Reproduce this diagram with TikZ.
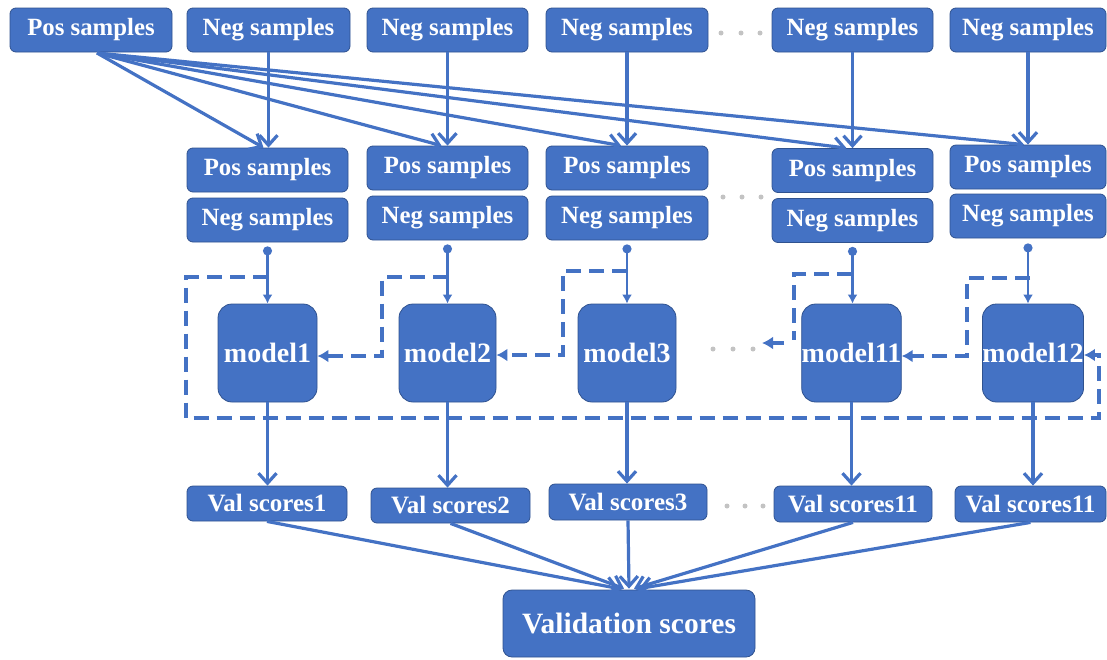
\documentclass[tikz,border=0pt]{standalone}
\usepackage{fontspec}
\setmainfont{Liberation Serif}[BoldFont={Liberation Serif Bold}]
\newfontfamily\lserif{Liberation Serif}[BoldFont={Liberation Serif Bold}]
\usetikzlibrary{arrows.meta,calc}
\definecolor{boxblue}{RGB}{68,114,196}
\definecolor{boxedge}{RGB}{47,82,143}
\definecolor{lineblue}{RGB}{68,114,196}
\definecolor{dotgray}{RGB}{195,195,195}
\begin{document}
\begin{tikzpicture}[x=1pt,y=-1pt,
  box/.style={draw=boxedge, fill=boxblue, line width=0.8pt, rounded corners=6pt,
    text=white, font=\lserif\fontsize{24.8}{26}\selectfont\bfseries, inner sep=0pt, minimum height=44pt},
  valbox/.style={box, minimum height=36pt, font=\lserif\fontsize{25}{26}\selectfont\bfseries},
  modelbox/.style={box, rounded corners=14pt, font=\lserif\fontsize{28}{30}\selectfont\bfseries, minimum height=98pt},
  bigbox/.style={box, rounded corners=9pt, font=\lserif\fontsize{29.5}{31}\selectfont\bfseries, minimum height=67pt},
  arr/.style={draw=lineblue, line width=3.2pt, line join=round, -{Straight Barb[length=10pt,width=18pt]}},
  feed/.style={draw=lineblue, line width=2.2pt, {Circle[length=9pt]}-{Latex[length=9pt,width=10pt]}},
  fb/.style={draw=lineblue, line width=3.4pt, dash pattern=on 15pt off 8pt, -{Latex[length=11pt,width=13pt]}},
  fbline/.style={draw=lineblue, line width=3.4pt, dash pattern=on 15pt off 8pt},
  edot/.style={circle, fill=dotgray, inner sep=0pt, minimum size=5pt}
]
\useasboundingbox (0,0) rectangle (1107,659);

% top row
\node[box, minimum width=162pt] (pos0) at (91,30) {Pos samples};
\node[box, minimum width=163pt] (neg1) at (268.5,30) {Neg samples};
\node[box, minimum width=161pt] (neg2) at (447.5,30) {Neg samples};
\node[box, minimum width=162pt] (neg3) at (627,30) {Neg samples};
\node[box, minimum width=161pt] (neg4) at (852.5,30) {Neg samples};
\node[box, minimum width=156pt] (neg5) at (1028,30) {Neg samples};

% second row
\node[box, minimum width=161pt] (p1) at (267.5,170) {Pos samples};
\node[box, minimum width=161pt] (p2) at (447.5,168) {Pos samples};
\node[box, minimum width=162pt] (p3) at (627,168) {Pos samples};
\node[box, minimum width=161pt] (p4) at (852.5,170.5) {Pos samples};
\node[box, minimum width=156pt] (p5) at (1028,167) {Pos samples};

\node[box, minimum width=161pt] (n1) at (267.5,220) {Neg samples};
\node[box, minimum width=161pt] (n2) at (447.5,218) {Neg samples};
\node[box, minimum width=162pt] (n3) at (627,218) {Neg samples};
\node[box, minimum width=161pt] (n4) at (852.5,220.5) {Neg samples};
\node[box, minimum width=156pt] (n5) at (1028,216) {Neg samples};

% models
\node[modelbox, minimum width=99pt] (m1) at (267.5,353) {model1};
\node[modelbox, minimum width=97pt] (m2) at (447.5,353) {model2};
\node[modelbox, minimum width=98pt] (m3) at (627,353) {model3};
\node[modelbox, minimum width=99pt] (m4) at (851.5,353) {model11};
\node[modelbox, minimum width=98pt] (m5) at (1033,353) {model12};

% val scores
\node[valbox, minimum width=160pt, minimum height=35pt] (v1) at (267,503.5) {Val scores1};
\node[valbox, minimum width=159pt, minimum height=35pt] (v2) at (450.5,505.5) {Val scores2};
\node[valbox, minimum width=158pt] (v3) at (628,502) {Val scores3};
\node[valbox, minimum width=158pt] (v4) at (853,504) {Val scores11};
\node[valbox, minimum width=151pt] (v5) at (1030.5,504) {Val scores11};

\node[bigbox, minimum width=252pt] (val) at (629,623.5) {Validation scores};

% ellipsis dots
\foreach \x in {721,741,760} \node[edot] at (\x,33) {};
\foreach \x in {723,742,761} \node[edot] at (\x,197) {};
\foreach \x in {713,733,753} \node[edot] at (\x,349) {};
\foreach \x in {727,745,763} \node[edot] at (\x,506) {};

% pos samples fan-out
\coordinate (src) at (97,53);
\draw[arr] (src) -- ($(p1.north)+(-4,0)$);
\draw[arr] (src) -- ($(p2.north)+(-6,0)$);
\draw[arr] (src) -- ($(p3.north)+(-6,0)$);
\draw[arr] (src) -- ($(p4.north)+(-6,0)$);
\draw[arr] (src) -- ($(p5.north)+(-4,0)$);

% neg samples down
\draw[arr] (neg1.south) -- (neg1.south |- p1.north);
\draw[arr] (neg2.south) -- (neg2.south |- p2.north);
\draw[arr] (neg3.south) -- (neg3.south |- p3.north);
\draw[arr] (neg4.south) -- (neg4.south |- p4.north);
\draw[arr] (neg5.south) -- (neg5.south |- p5.north);

% neg samples to models
\draw[feed] ($(n1.south)+(0,4)$) -- (n1.south |- m1.north);
\draw[feed] ($(n2.south)+(0,4)$) -- (n2.south |- m2.north);
\draw[feed] ($(n3.south)+(0,4)$) -- (n3.south |- m3.north);
\draw[feed] ($(n4.south)+(0,4)$) -- (n4.south |- m4.north);
\draw[feed] ($(n5.south)+(0,5)$) -- (n5.south |- m5.north);

% dashed feedback
\coordinate (t1) at (267.5,277);
\coordinate (t2) at (447.5,277);
\coordinate (t3) at (627,271);
\coordinate (t4) at (852,274);
\coordinate (t5) at (1030,278);
\coordinate (c1a) at (186,277);
\coordinate (c1b) at (186,418);
\coordinate (c1c) at (1099,418);
\coordinate (c1d) at (1099,355);
\draw[fb] (t1) -- (c1a) -- (c1b) -- (c1c) -- (c1d) -- (m5.east |- c1d);
\coordinate (c2) at (382,356);
\draw[fb] (t2) -| (c2) -- (m1.east |- c2);
\coordinate (c3) at (563,355);
\draw[fb] (t3) -| (c3) -- (m2.east |- c3);
\coordinate (c4) at (794,340);
\draw[fbline] (t4) -| (c4);
\coordinate (a4s) at (784,343);
\coordinate (a4e) at (762,343);
\draw[fb] (a4s) -- (a4e);
\coordinate (c5) at (967,356);
\draw[fb] (t5) -| (c5) -- (m4.east |- c5);

% models to val scores
\draw[arr] (m1.south) -- (m1.south |- v1.north);
\draw[arr] (m2.south) -- (m2.south |- v2.north);
\draw[arr] (m3.south) -- (m3.south |- v3.north);
\draw[arr] (m4.south) -- (m4.south |- v4.north);
\draw[arr] (m5.south) -- (m5.south |- v5.north);

% val scores to validation
\draw[arr] (v1.south) -- ($(val.north)+(-10,-1)$);
\draw[arr] (v2.south) -- ($(val.north)+(-5,-1)$);
\draw[arr] (v3.south) -- ($(val.north)+(0,-1)$);
\draw[arr] (v4.south) -- ($(val.north)+(5,-1)$);
\draw[arr] (v5.south) -- ($(val.north)+(10,-1)$);
\end{tikzpicture}
\end{document}
